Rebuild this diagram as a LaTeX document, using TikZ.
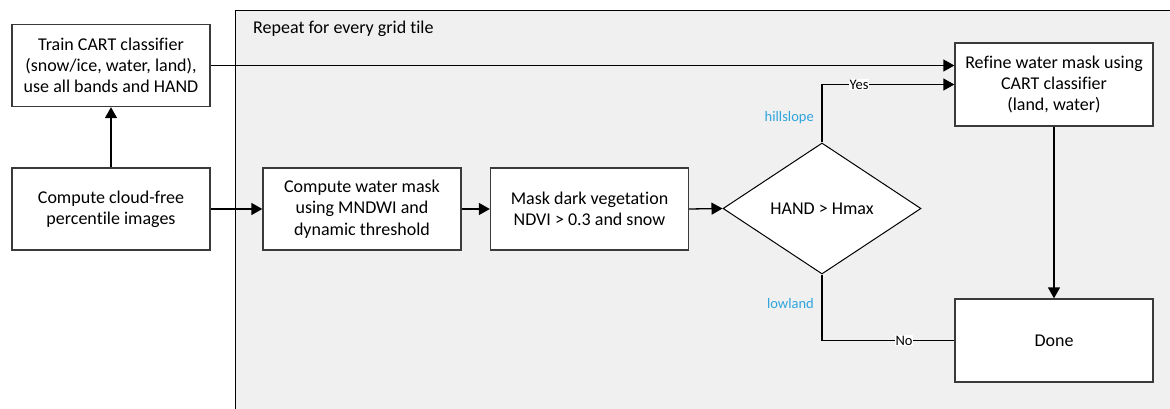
\documentclass[tikz,border=0pt]{standalone}
\usepackage{fontspec}
\setmainfont{Carlito}[Ligatures=CommonOff]
\usetikzlibrary{shapes.geometric,arrows.meta}
\definecolor{panelgray}{HTML}{F0F0F0}
\definecolor{boxline}{HTML}{3A3A3A}
\definecolor{labelblue}{HTML}{2FA4DD}
\begin{document}
\begin{tikzpicture}[x=1pt,y=-1pt,
  box/.style={draw=boxline, line width=1.3pt, fill=white, minimum width=198pt, minimum height=82pt, inner sep=2pt, align=center, font=\fontsize{18}{21.3}\selectfont},
  decision/.style={draw=black, line width=1pt, fill=white, shape=diamond, minimum width=198pt, minimum height=131pt, inner sep=0pt, font=\fontsize{18}{21}\selectfont},
  arr/.style={line width=1.3pt, -{Triangle[length=11pt,width=12pt]}},
  conn/.style={line width=1.3pt},
  edgelabel/.style={fill=white, inner sep=0.5pt, font=\fontsize{14.5}{16}\selectfont},
  branchlabel/.style={text=labelblue, inner sep=0pt, anchor=east, font=\fontsize{14.5}{16}\selectfont}]
\useasboundingbox (0,0) rectangle (1170,409);
% panel
\fill[panelgray] (235,11) rectangle (1170,409);
\draw[line width=1pt] (1170,11) -- (235,11) -- (235,409);
\node[anchor=west, inner sep=0pt, font=\fontsize{18}{20}\selectfont] (paneltitle) at (253,28.5) {Repeat for every grid tile};
% nodes
\node[box] (train) at (111,65.5) {Train CART classifier\\(snow/ice, water, land),\\use all bands and HAND};
\node[box] (cloud) at (111,209) {Compute cloud-free\\percentile images};
\node[box] (water) at (362,209) {Compute water mask\\using MNDWI and\\dynamic threshold};
\node[box] (veg) at (589.5,209) {Mask dark vegetation\\NDVI > 0.3 and snow};
\node[decision] (dec) at (822,208.5) {HAND > Hmax};
\node[box, minimum height=83pt] (refine) at (1054,84.5) {Refine water mask using\\CART classifier\\(land, water)};
\node[box, minimum height=83pt] (done) at (1054,340.5) {Done};
% connectors
\draw[arr] (cloud.north) -- (train.south);
\draw[arr] (cloud.east) -- (water.west);
\draw[arr] (water.east) -- (veg.west);
\draw[arr] (veg.east) -- (dec.west);
\draw[arr] (train.east) -- (train.east -| refine.west);
\draw[arr] (dec.north) |- node[edgelabel, pos=0.64] (yes) {Yes} (refine.west);
\draw[conn] (dec.south) |- node[edgelabel, pos=0.81] (no) {No} (done.west);
\draw[arr] (refine.south) -- (done.north);
\node[branchlabel] (hill) at (814,118) {hillslope};
\node[branchlabel] (low) at (814,304) {lowland};
\end{tikzpicture}
\end{document}
